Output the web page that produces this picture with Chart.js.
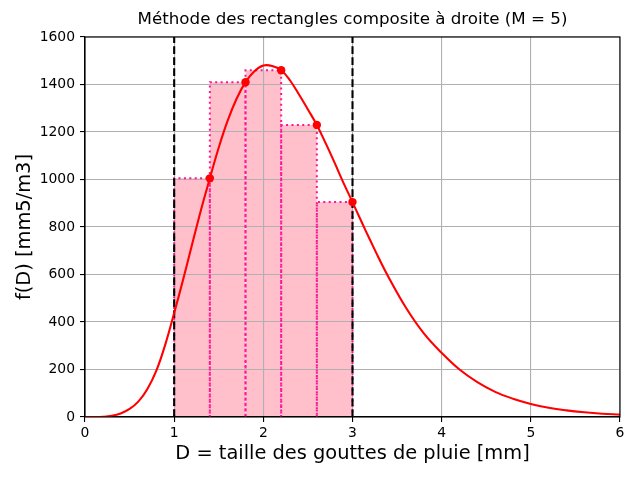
<!DOCTYPE html>
<html>
<head>
<meta charset="utf-8">
<script src="https://cdn.jsdelivr.net/npm/chart.js@4/dist/chart.umd.min.js"></script>
<style>
  html, body { margin: 0; padding: 0; background: #fff; }
  #wrap { width: 640px; height: 480px; }
</style>
</head>
<body>
<div id="wrap"><canvas id="chart" width="640" height="480"></canvas></div>
<script>
// curve f(D)
var curveD = [0, 0.1, 0.2, 0.3, 0.4, 0.5, 0.6, 0.7, 0.8, 0.9, 1.0, 1.1, 1.2, 1.3, 1.4, 1.5,
              1.6, 1.7, 1.8, 1.9, 2.0, 2.1, 2.2, 2.3, 2.4, 2.5, 2.6, 2.7, 2.8, 2.9, 3.0,
              3.1, 3.2, 3.3, 3.4, 3.6, 3.8, 4.0, 4.2, 4.4, 4.6, 4.8, 5.0, 5.2, 5.4, 5.6, 5.8, 6.0];
var curveF = [0, 0, 1, 5, 15, 34, 66, 118, 195, 305, 438, 578, 725, 871, 1005, 1135,
              1248, 1340, 1410, 1456, 1480, 1478, 1460, 1417, 1358, 1295, 1230, 1152, 1070, 985, 905,
              823, 743, 665, 592, 460, 352, 270, 200, 147, 106, 77, 55, 39, 28, 20, 14, 10];

// right-endpoint rectangles (M = 5)
var rectEdges = [1, 1.4, 1.8, 2.2, 2.6, 3];
var rectHeights = [1005, 1410, 1460, 1230, 905];

// integration bounds
var bounds = [1, 3];

var xRange = [0, 6];
var yRange = [0, 1600];

var FONT = 'DejaVu Sans';

var datasets = [];

datasets.push({
    data: curveD.map(function(d, i) { return { x: d, y: curveF[i] }; }),
    showLine: true,
    borderColor: '#ff0000',
    borderWidth: 2.1,
    pointRadius: 0,
    tension: 0.4,
    fill: false,
    order: 2
});

rectHeights.forEach(function(h, i) {
    var a = rectEdges[i], b = rectEdges[i + 1];
    datasets.push({
        data: [{ x: a, y: 0 }, { x: a, y: h }, { x: b, y: h }, { x: b, y: 0 }],
        showLine: true,
        borderColor: '#ff1493',
        borderWidth: 2,
        borderDash: [2, 3.4],
        backgroundColor: '#ffc0cb',
        pointRadius: 0,
        tension: 0,
        fill: 'origin',
        order: 5
    });
});

datasets.push({
    data: rectHeights.map(function(h, i) { return { x: rectEdges[i + 1], y: h }; }),
    showLine: false,
    pointRadius: 4.2,
    pointBackgroundColor: '#ff0000',
    pointBorderColor: '#ff0000',
    pointBorderWidth: 0,
    order: 1
});

bounds.forEach(function(b) {
    datasets.push({
        data: [{ x: b, y: yRange[0] }, { x: b, y: yRange[1] }],
        showLine: true,
        borderColor: '#000000',
        borderWidth: 2.1,
        borderDash: [7.7, 3.3],
        pointRadius: 0,
        fill: false,
        order: 3
    });
});

var frame = {
    id: 'frame',
    afterDraw: function(chart) {
        var a = chart.chartArea, ctx = chart.ctx;
        ctx.save();
        ctx.strokeStyle = '#000';
        ctx.lineWidth = 1.1;
        ctx.strokeRect(a.left, a.top, a.right - a.left, a.bottom - a.top);
        ctx.restore();
    }
};

function plain(v) { return String(v); }

new Chart(document.getElementById('chart'), {
    type: 'scatter',
    data: { datasets: datasets },
    plugins: [frame],
    options: {
        responsive: false,
        animation: false,
        devicePixelRatio: 1,
        layout: { padding: { left: 0, right: 20, top: 0, bottom: 0 } },
        plugins: {
            legend: { display: false },
            tooltip: { enabled: false },
            filler: { drawTime: 'beforeDraw' },
            title: {
                display: true,
                fullSize: false,
                text: 'Méthode des rectangles composite à droite (M = 5)',
                color: '#000',
                font: { family: FONT, size: 16.7, weight: 'normal' },
                padding: { top: 10, bottom: 7 }
            }
        },
        scales: {
            x: {
                type: 'linear',
                min: xRange[0],
                max: xRange[1],
                afterFit: function(s) { s.height = 63; },
                ticks: {
                    stepSize: 1,
                    callback: plain,
                    color: '#000',
                    font: { family: FONT, size: 13.9 },
                    padding: 3,
                    maxRotation: 0
                },
                grid: {
                    color: '#b0b0b0',
                    lineWidth: 1.1,
                    tickColor: '#000',
                    tickLength: 5,
                    tickWidth: 1.1
                },
                border: { color: '#000', width: 1.1 },
                title: {
                    display: true,
                    text: 'D = taille des gouttes de pluie [mm]',
                    color: '#000',
                    font: { family: FONT, size: 19.4 },
                    padding: { top: 0, bottom: 14 }
                }
            },
            y: {
                type: 'linear',
                min: yRange[0],
                max: yRange[1],
                afterFit: function(s) { s.width = 85; },
                ticks: {
                    stepSize: 200,
                    callback: plain,
                    color: '#000',
                    font: { family: FONT, size: 13.9 },
                    padding: 5
                },
                grid: {
                    color: '#b0b0b0',
                    lineWidth: 1.1,
                    tickColor: '#000',
                    tickLength: 5,
                    tickWidth: 1.1
                },
                border: { color: '#000', width: 1.1 },
                title: {
                    display: true,
                    text: 'f(D) [mm5/m3]',
                    color: '#000',
                    font: { family: FONT, size: 19.4 },
                    padding: { top: 13, bottom: 0 }
                }
            }
        }
    }
});
</script>
</body>
</html>
